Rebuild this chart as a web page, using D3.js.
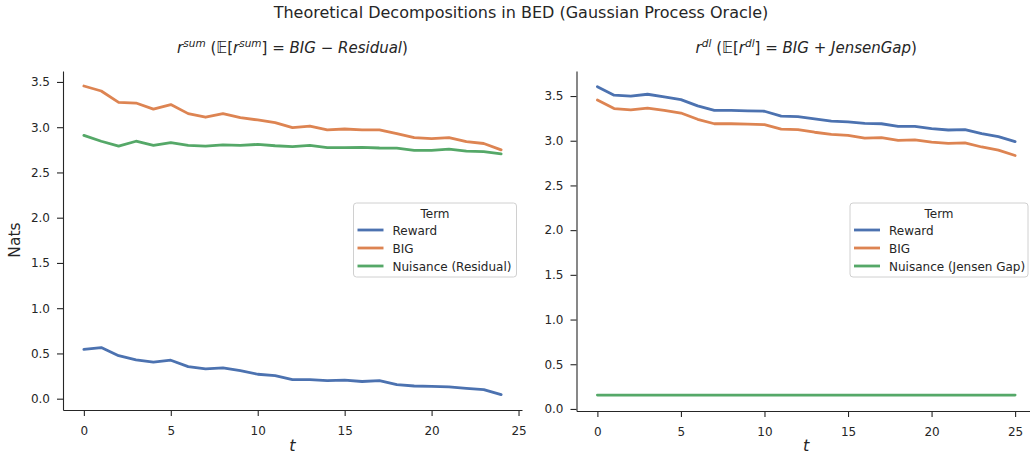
<html>
<head>
<script src="https://d3js.org/d3.v7.min.js"></script>
<style>
  body { margin: 0; background: #fff; }
  text { font-family: "DejaVu Sans", sans-serif; fill: #262626; }
</style>
</head>
<body>
<svg width="1030" height="456"></svg>
<script>
// data
const terms = ["Reward", "BIG", "Nuisance"];
const colors = ["#4C72B0", "#DD8452", "#55A868"];

const tSum = d3.range(0, 25);
const sumReward = [0.545, 0.565, 0.475, 0.43, 0.405, 0.425, 0.355, 0.33, 0.34, 0.31, 0.27, 0.255, 0.21,
  0.21, 0.20, 0.205, 0.19, 0.20, 0.155, 0.14, 0.135, 0.13, 0.115, 0.10, 0.045];
const sumBIG = [3.455, 3.40, 3.275, 3.267, 3.20, 3.25, 3.15, 3.11, 3.15, 3.105, 3.08, 3.05, 2.995,
  3.013, 2.97, 2.98, 2.97, 2.97, 2.93, 2.885, 2.873, 2.885, 2.84, 2.82, 2.75];
const sumNuisance = [2.91, 2.845, 2.79, 2.845, 2.80, 2.83, 2.80, 2.79, 2.805, 2.80, 2.81, 2.795, 2.785,
  2.80, 2.775, 2.775, 2.778, 2.77, 2.768, 2.745, 2.745, 2.758, 2.735, 2.73, 2.705];

const tDl = d3.range(0, 26);
const dlReward = [3.605, 3.51, 3.50, 3.52, 3.49, 3.46, 3.39, 3.34, 3.34, 3.335, 3.33, 3.275, 3.27,
  3.245, 3.22, 3.21, 3.195, 3.19, 3.16, 3.16, 3.135, 3.12, 3.125, 3.08, 3.045, 2.99];
const dlBIG = [3.455, 3.36, 3.345, 3.365, 3.34, 3.31, 3.24, 3.19, 3.19, 3.185, 3.18, 3.13, 3.125,
  3.095, 3.07, 3.06, 3.03, 3.035, 3.005, 3.01, 2.985, 2.97, 2.975, 2.93, 2.895, 2.835];
const dlNuisance = [0.155, 0.155, 0.155, 0.155, 0.155, 0.155, 0.155, 0.155, 0.155, 0.155, 0.155, 0.155, 0.155,
  0.155, 0.155, 0.155, 0.155, 0.155, 0.155, 0.155, 0.155, 0.155, 0.155, 0.155, 0.155, 0.155];

const xTicks = [0, 5, 10, 15, 20, 25];
const yTicks = [0, 0.5, 1.0, 1.5, 2.0, 2.5, 3.0, 3.5];

const svg = d3.select("svg");

svg.append("text")
  .attr("x", 521).attr("y", 18)
  .attr("text-anchor", "middle")
  .style("font-size", "16px")
  .text("Theoretical Decompositions in BED (Gaussian Process Oracle)");

function panel(opts) {
  const {left, width, top, bottom, xs, series, legendLabels, yDomain, xDomain, legendX, legendW, title} = opts;
  const g = svg.append("g");
  const x = d3.scaleLinear().domain(xDomain).range([left, left + width]);
  const y = d3.scaleLinear().domain(yDomain).range([bottom, top]);

  const xAxis = g.append("g")
    .attr("transform", `translate(0,${bottom})`)
    .call(d3.axisBottom(x).tickValues(xTicks).tickFormat(d3.format("d")).tickSize(6).tickPadding(10).tickSizeOuter(0));
  const yAxis = g.append("g")
    .attr("transform", `translate(${left},0)`)
    .call(d3.axisLeft(y).tickValues(yTicks).tickFormat(d3.format(".1f")).tickSize(6).tickPadding(7).tickSizeOuter(0));
  [xAxis, yAxis].forEach(a => {
    a.select(".domain").attr("stroke", "#262626").attr("stroke-width", 1.1);
    a.selectAll(".tick line").attr("stroke", "#262626").attr("stroke-width", 1.1);
    a.selectAll(".tick text").style("font-size", "12px").attr("fill", "#262626")
      .style("font-family", "DejaVu Sans, sans-serif");
  });

  const line = d3.line().x((d, i) => x(xs[i])).y(d => y(d));
  series.forEach((s, i) => {
    g.append("path").datum(s)
      .attr("fill", "none")
      .attr("stroke", colors[i])
      .attr("stroke-width", 2.8)
      .attr("stroke-linejoin", "round")
      .attr("stroke-linecap", "round")
      .attr("d", line);
  });

  // x label
  g.append("text")
    .attr("x", left + width / 2).attr("y", 451)
    .attr("text-anchor", "middle")
    .style("font-size", "16px").style("font-style", "italic")
    .text("t");

  // title
  const tt = g.append("text")
    .attr("x", left + width / 2).attr("y", 53)
    .attr("text-anchor", "middle")
    .style("font-size", "15px");
  title.forEach(p => {
    const ts = tt.append("tspan").text(p.t);
    if (p.i) ts.style("font-style", "italic");
    if (p.sup) ts.style("font-size", "10.5px").attr("dy", -6);
    if (p.down) ts.attr("dy", 6);
  });

  // legend
  const lg = g.append("g").attr("transform", `translate(${legendX},203)`);
  lg.append("rect")
    .attr("width", legendW).attr("height", 74)
    .attr("rx", 3)
    .attr("fill", "#fff").attr("fill-opacity", 0.8)
    .attr("stroke", "#d0d0d0").attr("stroke-width", 1);
  lg.append("text")
    .attr("x", legendW / 2).attr("y", 14.5)
    .attr("text-anchor", "middle")
    .style("font-size", "12px")
    .text("Term");
  legendLabels.forEach((lab, i) => {
    const yy = 27 + i * 18;
    lg.append("line")
      .attr("x1", 4).attr("x2", 30).attr("y1", yy).attr("y2", yy)
      .attr("stroke", colors[i]).attr("stroke-width", 2.8);
    lg.append("text")
      .attr("x", 39).attr("y", yy + 4.5)
      .style("font-size", "12px")
      .text(lab);
  });
}

panel({
  left: 63, width: 459, top: 71, bottom: 410,
  xs: tSum, series: [sumReward, sumBIG, sumNuisance],
  xDomain: [-1.2, 25.2], yDomain: [-0.125, 3.621],
  legendLabels: ["Reward", "BIG", "Nuisance (Residual)"],
  legendX: 353.5, legendW: 163,
  title: [
    {t: "r", i: true}, {t: "sum", i: true, sup: true},
    {t: " (\u{1D53C}[", down: true}, {t: "r", i: true}, {t: "sum", i: true, sup: true},
    {t: "] = ", down: true}, {t: "BIG", i: true}, {t: " \u2212 "}, {t: "Residual", i: true}, {t: ")"}
  ]
});

panel({
  left: 576.5, width: 459.5, top: 71, bottom: 411,
  xs: tDl, series: [dlReward, dlBIG, dlNuisance],
  xDomain: [-1.25, 26.25], yDomain: [-0.023, 3.78],
  legendLabels: ["Reward", "BIG", "Nuisance (Jensen Gap)"],
  legendX: 850, legendW: 178,
  title: [
    {t: "r", i: true}, {t: "dl", i: true, sup: true},
    {t: " (\u{1D53C}[", down: true}, {t: "r", i: true}, {t: "dl", i: true, sup: true},
    {t: "] = ", down: true}, {t: "BIG", i: true}, {t: " + "}, {t: "JensenGap", i: true}, {t: ")"}
  ]
});

// y label
svg.append("text")
  .attr("transform", "translate(20,240) rotate(-90)")
  .attr("text-anchor", "middle")
  .style("font-size", "15.5px")
  .text("Nats");
</script>
</body>
</html>
